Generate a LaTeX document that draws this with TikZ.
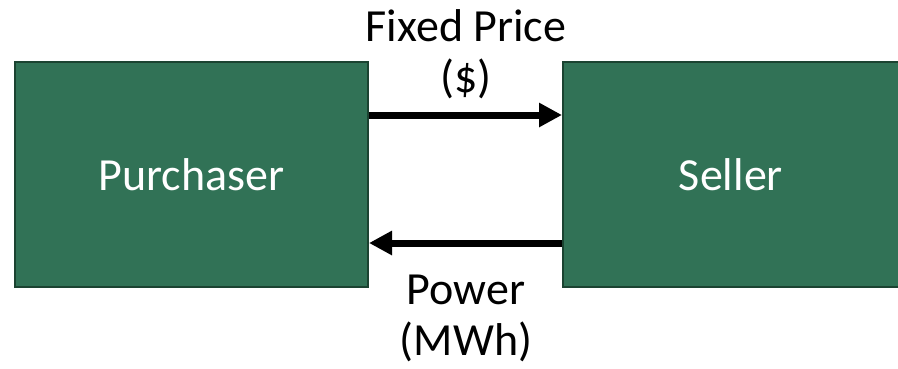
\documentclass[tikz,border=0pt]{standalone}
\usepackage{fontspec}
\setmainfont{Carlito}
\usetikzlibrary{arrows.meta}
\definecolor{boxgreen}{HTML}{317256}
\definecolor{boxedge}{HTML}{1B4331}
\tikzset{
  party/.style={draw=boxedge, line width=2pt, fill=boxgreen, text=white, inner sep=0pt},
  flow/.style={line width=7pt, -{Triangle[length=23pt,width=23pt]}},
  flowlabel/.style={align=center, inner sep=0pt, anchor=north}
}
\begin{document}
\begin{tikzpicture}[x=1pt, y=-1pt, font=\fontsize{46}{51}\selectfont]
    \useasboundingbox (0,0) rectangle (898,368);

    % The two parties
    \node[party, minimum width=353pt, minimum height=225pt] (purchaser) at (191.5,174.5) {Purchaser};
    \node[party, minimum width=336pt, minimum height=225pt] (seller) at (731,174.5) {Seller};

    % Money one way, power the other
    \draw[flow] ([yshift=59.5pt]purchaser.east) -- ([yshift=59.5pt]seller.west);
    \draw[flow] ([yshift=-68.5pt]seller.west) -- ([yshift=-68.5pt]purchaser.east);

    % Labels
    \node[flowlabel] (price) at (466,9) {Fixed Price\\(\$)};
    \node[flowlabel] (power) at (466,275) {Power\\(MWh)};
  \end{tikzpicture}
\end{document}
